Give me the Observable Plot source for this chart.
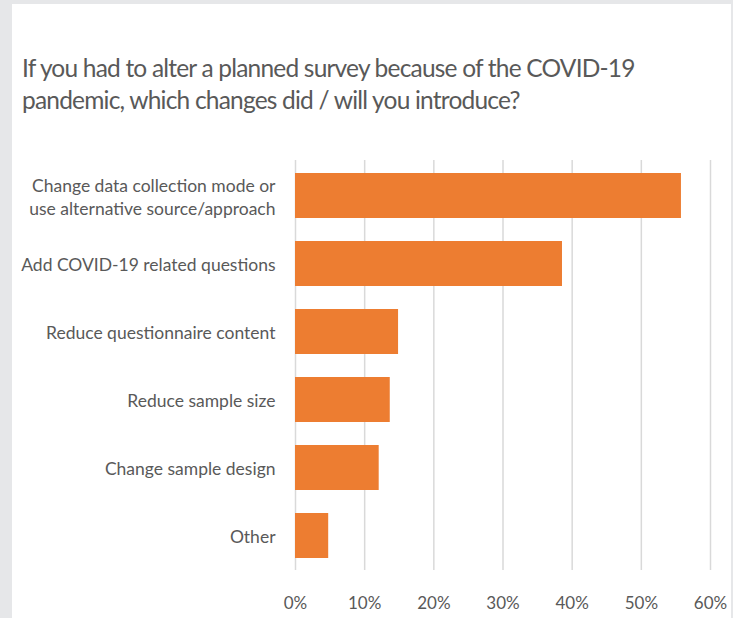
<!DOCTYPE html>
<html>
<head>
<meta charset="utf-8">
<script src="https://cdn.jsdelivr.net/npm/d3@7"></script>
<script src="https://cdn.jsdelivr.net/npm/@observablehq/plot@0.6"></script>
<style>
  html, body { margin: 0; padding: 0; }
  body { width: 733px; height: 618px; background: #e6e7e9; position: relative; overflow: hidden;
         font-family: Lato, sans-serif; }
  #panel { position: absolute; left: 12px; top: 4px; width: 719px; height: 614px; background: #fff; }
  #title { position: absolute; left: 22px; top: 52px; font-size: 24.5px; line-height: 32px; color: #595959;
           letter-spacing: -0.8px; }
  #chart { position: absolute; left: 0; top: 0; }
</style>
</head>
<body>
<div id="panel"></div>
<div id="title">If you had to alter a planned survey because of the COVID-19<br>pandemic, which changes did / will you introduce?</div>
<div id="chart"></div>
<script>
const categories = [
  "Change data collection mode or\nuse alternative source/approach",
  "Add COVID-19 related questions",
  "Reduce questionnaire content",
  "Reduce sample size",
  "Change sample design",
  "Other"
];
const values = [0.558, 0.386, 0.149, 0.137, 0.121, 0.048];
const xTicks = [0, 0.1, 0.2, 0.3, 0.4, 0.5, 0.6];

const data = categories.map((c, i) => ({category: c, value: values[i]}));

const chart = Plot.plot({
  width: 733,
  height: 618,
  marginLeft: 295,
  marginRight: 23,
  marginTop: 160,
  marginBottom: 48,
  style: {background: "transparent", fontFamily: "Lato, sans-serif", fontSize: "17px", color: "#595959"},
  x: {domain: [0, 0.6]},
  y: {domain: categories, paddingInner: 0.34, paddingOuter: 0.17},
  marks: [
    Plot.gridX(xTicks, {stroke: "#d9d9d9", strokeOpacity: 1, strokeWidth: 1.5}),
    Plot.barX(data, {x: "value", y: "category", fill: "#ed7d31"}),
    Plot.axisX(xTicks, {tickSize: 0, tickPadding: 26, tickFormat: d => Math.round(d * 100) + "%", fill: "#595959", fontSize: 17, label: null}),
    Plot.axisY({tickSize: 0, tickPadding: 20, fill: "#595959", fontSize: 17.5, label: null, lineHeight: 1.33})
  ]
});
document.getElementById("chart").appendChild(chart);
</script>
</body>
</html>
